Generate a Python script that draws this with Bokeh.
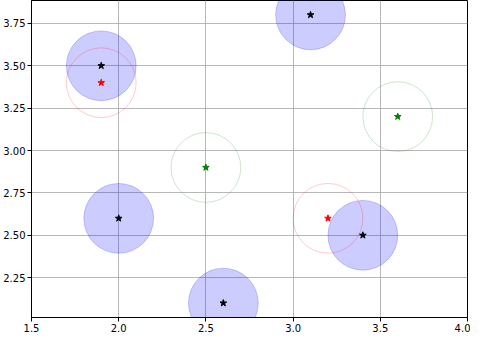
from bokeh.plotting import figure
from bokeh.models import FixedTicker, NumeralTickFormatter, Range1d
from bokeh.embed import file_html
from bokeh.resources import INLINE

# Data
black_x = [1.9, 3.1, 2.0, 3.4, 2.6]
black_y = [3.5, 3.8, 2.6, 2.5, 2.1]
red_x = [1.9, 3.2]
red_y = [3.4, 2.6]
green_x = [2.5, 3.6]
green_y = [2.9, 3.2]
radius = 0.2
x_ticks = [1.5, 2.0, 2.5, 3.0, 3.5, 4.0]
y_ticks = [2.25, 2.5, 2.75, 3.0, 3.25, 3.5, 3.75]

p = figure(width=470, height=334, output_backend="svg", toolbar_location=None,
           x_range=Range1d(1.5, 4.0), y_range=Range1d(2.015, 3.885),
           min_border_left=30, min_border_right=3, min_border_top=0, min_border_bottom=0)

p.background_fill_color = "white"
p.border_fill_color = "white"
p.outline_line_color = "black"
p.outline_line_width = 1

# grid
for g in (p.xgrid, p.ygrid):
    g.grid_line_color = "#b0b0b0"
    g.grid_line_width = 0.9

# circles
p.circle(black_x, black_y, radius=radius, fill_color="blue", fill_alpha=0.2,
         line_color="blue", line_alpha=0.2, line_width=1)
p.circle(red_x, red_y, radius=radius, fill_color=None,
         line_color="red", line_alpha=0.2, line_width=1)
p.circle(green_x, green_y, radius=radius, fill_color=None,
         line_color="green", line_alpha=0.2, line_width=1)

# stars
p.scatter(black_x, black_y, marker="star", size=7, color="black")
p.scatter(red_x, red_y, marker="star", size=7, color="red")
p.scatter(green_x, green_y, marker="star", size=7, color="green")

p.xaxis.ticker = FixedTicker(ticks=x_ticks)
p.yaxis.ticker = FixedTicker(ticks=y_ticks)
p.xaxis.formatter = NumeralTickFormatter(format="0.0")
p.yaxis.formatter = NumeralTickFormatter(format="0.00")

for ax in (p.xaxis, p.yaxis):
    ax.axis_line_color = "black"
    ax.major_tick_line_color = "black"
    ax.major_tick_out = 4
    ax.major_tick_in = 0
    ax.minor_tick_line_color = None
    ax.major_label_text_font = "DejaVu Sans"
    ax.major_label_text_font_size = "10px"
    ax.major_label_text_color = "black"
    ax.major_label_standoff = 2

open("out.html", "w").write(file_html(p, INLINE))
